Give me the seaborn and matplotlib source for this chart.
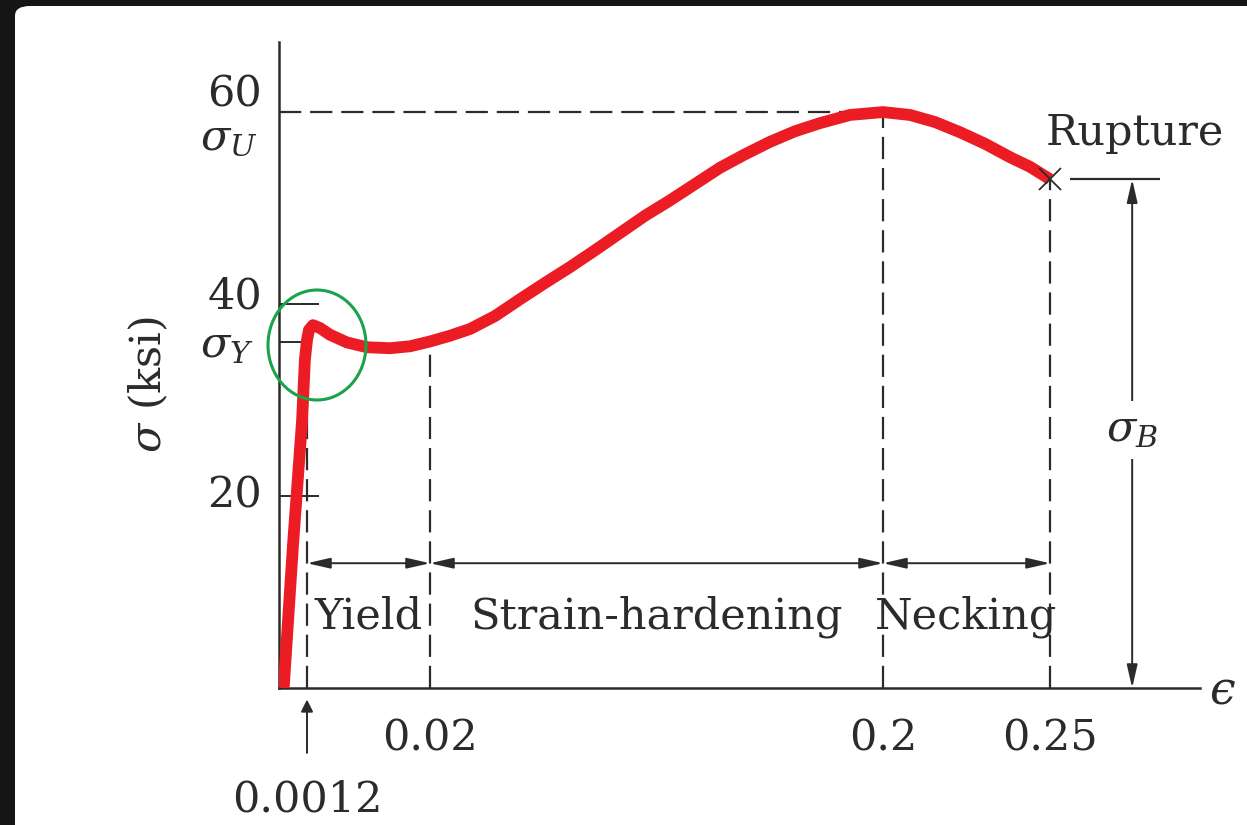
import numpy as np
import matplotlib
matplotlib.use("Agg")
import matplotlib.pyplot as plt
import matplotlib.transforms as mtransforms
from matplotlib.patches import FancyBboxPatch, Ellipse
import seaborn as sns
import pandas as pd

sns.set_theme(style="white")
plt.rcParams["font.family"] = ["DejaVu Serif"]
plt.rcParams["mathtext.fontset"] = "dejavuserif"

# stress-strain curve (strain, ksi)
strain = [0.0002, 0.0006, 0.00099, 0.00111, 0.0012, 0.0015, 0.00212, 0.00319,
          0.00472, 0.00731, 0.01037, 0.01389, 0.01694, 0.0200, 0.02795, 0.03589,
          0.04583, 0.05576, 0.0657, 0.07563, 0.08556, 0.0955, 0.10543, 0.11536,
          0.1253, 0.13523, 0.14517, 0.1551, 0.16503, 0.17497, 0.18689, 0.2000,
          0.20808, 0.21557, 0.22305, 0.23054, 0.23802, 0.24401, 0.2500]
stress = [0.0, 14.9, 27.9, 34.2, 36.25, 37.3, 37.8, 37.5,
          36.8, 36.0, 35.5, 35.4, 35.6, 36.1, 36.7, 37.4,
          38.75, 40.5, 42.2, 43.85, 45.6, 47.4, 49.2, 50.8,
          52.5, 54.2, 55.6, 56.9, 58.0, 58.85, 59.7, 60.0,
          59.7, 58.96, 57.9, 56.7, 55.3, 54.3, 53.0]

eps_yield = 0.0012
eps_hard = 0.02
eps_ultimate = 0.2
eps_rupture = 0.25
sigma_Y = 36
sigma_U = 60
sigma_B = 53
yticks_major = [20, 40]
xtick_vals = [0.02, 0.2, 0.25]
xtick_labels = ["0.02", "0.2", "0.25"]
regions = ["Yield", "Strain-hardening", "Necking"]
region_bounds = [eps_yield, eps_hard, eps_ultimate, eps_rupture]

# schematic (piecewise-linear) strain axis
eps_knots = [0, 0.0012, 0.02, 0.2, 0.25, 0.30]
pos_knots = [0, 28, 151, 604, 771, 938]
def fwd(v):
    return np.interp(v, eps_knots, pos_knots)
def inv(p):
    return np.interp(p, pos_knots, eps_knots)

df = pd.DataFrame({"strain": strain, "stress": stress})

W, H = 1247, 825
fig = plt.figure(figsize=(W / 100, H / 100), dpi=100, facecolor="#151515")
panel = FancyBboxPatch((15 / W, -0.05), 1.1, 1 - 6 / H + 0.05,
                       boxstyle="round,pad=0,rounding_size=0.012",
                       transform=fig.transFigure, facecolor="white",
                       edgecolor="none", zorder=-10)
fig.patches.append(panel)

ax = fig.add_axes([279 / W, 1 - 688 / H, 921 / W, 646 / H])
ax.set_facecolor("none")
ax.set_xscale("function", functions=(fwd, inv))
ax.set_xlim(0, inv(921))
ax.set_ylim(0, 67.3)

ink = "#2b2b2b"
red = "#ec1c24"
fs = 31

for s in ["top", "right"]:
    ax.spines[s].set_visible(False)
for s in ["left", "bottom"]:
    ax.spines[s].set_color(ink)
    ax.spines[s].set_linewidth(1.8)

# dashed guide lines
dash = dict(color=ink, linewidth=1.6, linestyle=(0, (10, 4)))
ax.hlines(sigma_U, 0, eps_ultimate, **dash)
ax.vlines([eps_yield, eps_hard], 0, sigma_Y, **dash)
ax.vlines(eps_ultimate, 0, sigma_U, **dash)
ax.vlines(eps_rupture, 0, sigma_B, **dash)

sns.lineplot(data=df, x="strain", y="stress", ax=ax, color=red, linewidth=8.5,
             sort=False, estimator=None, solid_joinstyle="round",
             solid_capstyle="butt", zorder=3)
ax.plot([eps_rupture], [sigma_B], marker="x", color=ink, markersize=16,
        markeredgewidth=1.3, zorder=4)

# y ticks
ax.set_yticks(yticks_major)
ax.set_yticks([sigma_Y], minor=True)
ax.tick_params(axis="y", which="major", direction="in", length=29, width=1.4,
               color=ink, labelleft=False, left=True)
ax.tick_params(axis="y", which="minor", direction="in", length=20, width=1.4,
               color=ink, left=True)
bt = mtransforms.blended_transform_factory(ax.transAxes, ax.transData)
ax.text(-0.048, 61.8, "60", transform=bt, ha="center", va="center", fontsize=fs, color=ink)
ax.text(-0.054, 57.4, r"$\sigma_U$", transform=bt, ha="center", va="center", fontsize=fs, color=ink)
ax.text(-0.048, 40.8, "40", transform=bt, ha="center", va="center", fontsize=fs, color=ink)
ax.text(-0.057, 35.7, r"$\sigma_Y$", transform=bt, ha="center", va="center", fontsize=fs, color=ink)
ax.text(-0.048, 20.1, "20", transform=bt, ha="center", va="center", fontsize=fs, color=ink)

ax.set_ylabel(r"$\sigma$ (ksi)", fontsize=fs, color=ink)
ax.yaxis.set_label_coords(-0.118, 0.47)
ax.set_xlabel("")

# x ticks
ax.set_xticks(xtick_vals)
ax.set_xticklabels(xtick_labels, fontsize=fs, color=ink)
ax.tick_params(axis="x", length=0, pad=21)
ax.annotate("0.0012", xy=(eps_yield, -1.2), xytext=(eps_yield, -11.6),
            ha="center", va="center", fontsize=fs, color=ink, annotation_clip=False,
            arrowprops=dict(arrowstyle="-|>", color=ink, lw=1.4,
                            mutation_scale=18, shrinkA=16, shrinkB=0))
ax.text(1.024, -0.3, "$\u03f5$", transform=bt, ha="center", va="center",
        fontsize=fs + 2, color=ink)

# region arrows and labels
arr = dict(arrowstyle="<|-|>,head_length=0.7,head_width=0.16", color=ink, lw=1.4,
           mutation_scale=20, shrinkA=0, shrinkB=0)
for name, a, b in zip(regions, region_bounds[:-1], region_bounds[1:]):
    ax.annotate("", xy=(b, 13.0), xytext=(a, 13.0), arrowprops=arr)
    mid = inv((fwd(a) + fwd(b)) / 2)
    ax.text(mid, 7.4, name, ha="center", va="center", fontsize=fs, color=ink)

# rupture and sigma_B
ax.text(0.2755, 57.8, "Rupture", ha="center", va="center", fontsize=fs, color=ink)
ax.hlines(sigma_B, 0.256, 0.283, color=ink, linewidth=1.6, clip_on=False)
ax.annotate("", xy=(0.2746, sigma_B), xytext=(0.2746, 0), annotation_clip=False,
            arrowprops=arr)
ax.text(0.2746, 26.9, r"$\sigma_B$", ha="center", va="center", fontsize=fs, color=ink,
        bbox=dict(facecolor="white", edgecolor="none", pad=6))

# green highlight around the upper yield point
ax.add_patch(Ellipse((38 / 921, 343 / 646), 98 / 921, 110 / 646,
                     transform=ax.transAxes, fill=False, edgecolor="#1aa34a",
                     linewidth=2.2, zorder=5, clip_on=False))

fig.savefig("out.png", dpi=100, facecolor=fig.get_facecolor())
